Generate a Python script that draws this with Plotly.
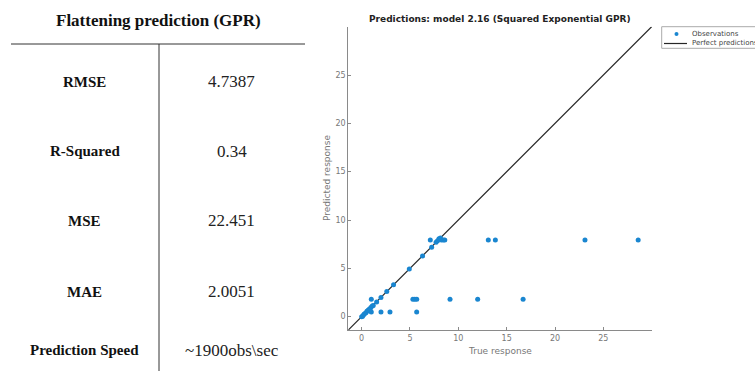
import plotly.graph_objects as go

# ---- data ----
metric_names = ["RMSE", "R-Squared", "MSE", "MAE", "Prediction Speed"]
metric_values = ["4.7387", "0.34", "22.451", "2.0051", "~1900obs\\sec"]
table_title = "Flattening prediction (GPR)"

true_response = [0.0, 0.1, 0.2, 0.3, 0.45, 0.55, 0.65, 0.75, 0.85, 0.95, 1.1, 1.2,
                 1.0, 1.0, 0.85, 1.55, 2.0, 2.6, 3.3, 4.93, 6.3, 7.24, 7.7, 7.85,
                 8.0, 8.15, 8.25, 8.45, 8.6, 7.1, 13.1, 13.83, 23.1, 28.6,
                 2.0, 2.93, 5.69, 5.3, 5.5, 5.7, 9.14, 12.0, 16.7]
predicted_response = [0.0, 0.05, 0.2, 0.3, 0.4, 0.55, 0.65, 0.75, 0.8, 0.95, 1.1, 1.15,
                      1.79, 0.48, 0.6, 1.52, 1.97, 2.6, 3.3, 4.93, 6.28, 7.17, 7.7, 7.85,
                      8.05, 8.15, 7.93, 7.93, 7.93, 7.93, 7.93, 7.93, 7.93, 7.93,
                      0.48, 0.48, 0.48, 1.79, 1.79, 1.79, 1.79, 1.79, 1.79]
perfect_line = [-1.38, 30.0]
x_ticks = [0, 5, 10, 15, 20, 25]
y_ticks = [0, 5, 10, 15, 20, 25]

W, H = 755, 371
def px(x): return x / W
def py(y): return 1 - y / H

fig = go.Figure()
fig.add_trace(go.Scatter(x=perfect_line, y=perfect_line, mode="lines",
                         line=dict(color="#262626", width=1.2),
                         name="Perfect prediction", showlegend=False, cliponaxis=False))
fig.add_trace(go.Scatter(x=true_response, y=predicted_response, mode="markers",
                         marker=dict(color="#1a86d0", size=5),
                         name="Observations", showlegend=False))

axis_common = dict(showgrid=False, zeroline=False, showline=True, linecolor="#8a8a8a",
                   linewidth=1, ticks="inside", ticklen=3, tickcolor="#8a8a8a",
                   tickfont=dict(family="DejaVu Sans", size=8, color="#777777"),
                   range=[-1.38, 30.0], mirror=False)
fig.update_xaxes(domain=[px(348.3), px(651.7)], tickvals=x_ticks, **axis_common)
fig.update_yaxes(domain=[py(330), py(26.7)], tickvals=y_ticks, **axis_common)

serif = "Liberation Serif"
ann = []
ann.append(dict(text="<b>" + table_title + "</b>", x=px(158.5), y=py(20), xref="paper", yref="paper",
                showarrow=False, font=dict(family=serif, size=17, color="#111111"),
                xanchor="center", yanchor="middle"))
row_y = [81.7, 151, 221, 291.7, 350]
for name, val, yy in zip(metric_names, metric_values, row_y):
    ann.append(dict(text="<b>" + name + "</b>", x=px(84.7), y=py(yy), xref="paper", yref="paper",
                    showarrow=False, font=dict(family=serif, size=15, color="#111111"),
                    xanchor="center", yanchor="middle"))
    ann.append(dict(text=val, x=px(231.7), y=py(yy), xref="paper", yref="paper",
                    showarrow=False, font=dict(family=serif, size=17, color="#222222"),
                    xanchor="center", yanchor="middle"))

# chart title & axis titles
ann.append(dict(text="<b>Predictions: model 2.16 (Squared Exponential GPR)</b>", x=px(500), y=py(19),
                xref="paper", yref="paper", showarrow=False,
                font=dict(family="DejaVu Sans", size=9, color="#222222"),
                xanchor="center", yanchor="middle"))
ann.append(dict(text="True response", x=px(500), y=py(351), xref="paper", yref="paper",
                showarrow=False, font=dict(family="DejaVu Sans", size=9, color="#777777"),
                xanchor="center", yanchor="middle"))
ann.append(dict(text="Predicted response", x=px(327), y=py(178), xref="paper", yref="paper",
                showarrow=False, textangle=-90,
                font=dict(family="DejaVu Sans", size=9, color="#777777"),
                xanchor="center", yanchor="middle"))
# legend texts
ann.append(dict(text="Observations", x=px(690), y=py(34), xref="paper", yref="paper",
                showarrow=False, font=dict(family="DejaVu Sans", size=7, color="#444444"),
                xanchor="left", yanchor="middle"))
ann.append(dict(text="Perfect predictions", x=px(690), y=py(43.5), xref="paper", yref="paper",
                showarrow=False, font=dict(family="DejaVu Sans", size=7, color="#444444"),
                xanchor="left", yanchor="middle"))

shapes = [
    dict(type="line", xref="paper", yref="paper", x0=px(11), x1=px(305), y0=py(44), y1=py(44),
         line=dict(color="#333333", width=1)),
    dict(type="line", xref="paper", yref="paper", x0=px(159), x1=px(159), y0=py(44), y1=py(371),
         line=dict(color="#333333", width=1)),
    # legend box
    dict(type="rect", xref="paper", yref="paper", x0=px(661.7), x1=px(770), y0=py(48.3), y1=py(26.7),
         line=dict(color="#aaaaaa", width=1), fillcolor="white"),
    dict(type="circle", xref="paper", yref="paper", x0=px(674.5), x1=px(678.5), y0=py(36), y1=py(32),
         line=dict(width=0), fillcolor="#1a86d0"),
    dict(type="line", xref="paper", yref="paper", x0=px(664), x1=px(687), y0=py(43.5), y1=py(43.5),
         line=dict(color="#262626", width=1.2)),
]

fig.update_layout(width=W, height=H, margin=dict(l=0, r=0, t=0, b=0),
                  paper_bgcolor="white", plot_bgcolor="white",
                  annotations=ann, shapes=shapes, showlegend=False)
fig.write_html("out.html", config={"displayModeBar": False, "staticPlot": True},
               post_script="document.body.style.margin='0px';document.body.style.overflow='hidden';")
